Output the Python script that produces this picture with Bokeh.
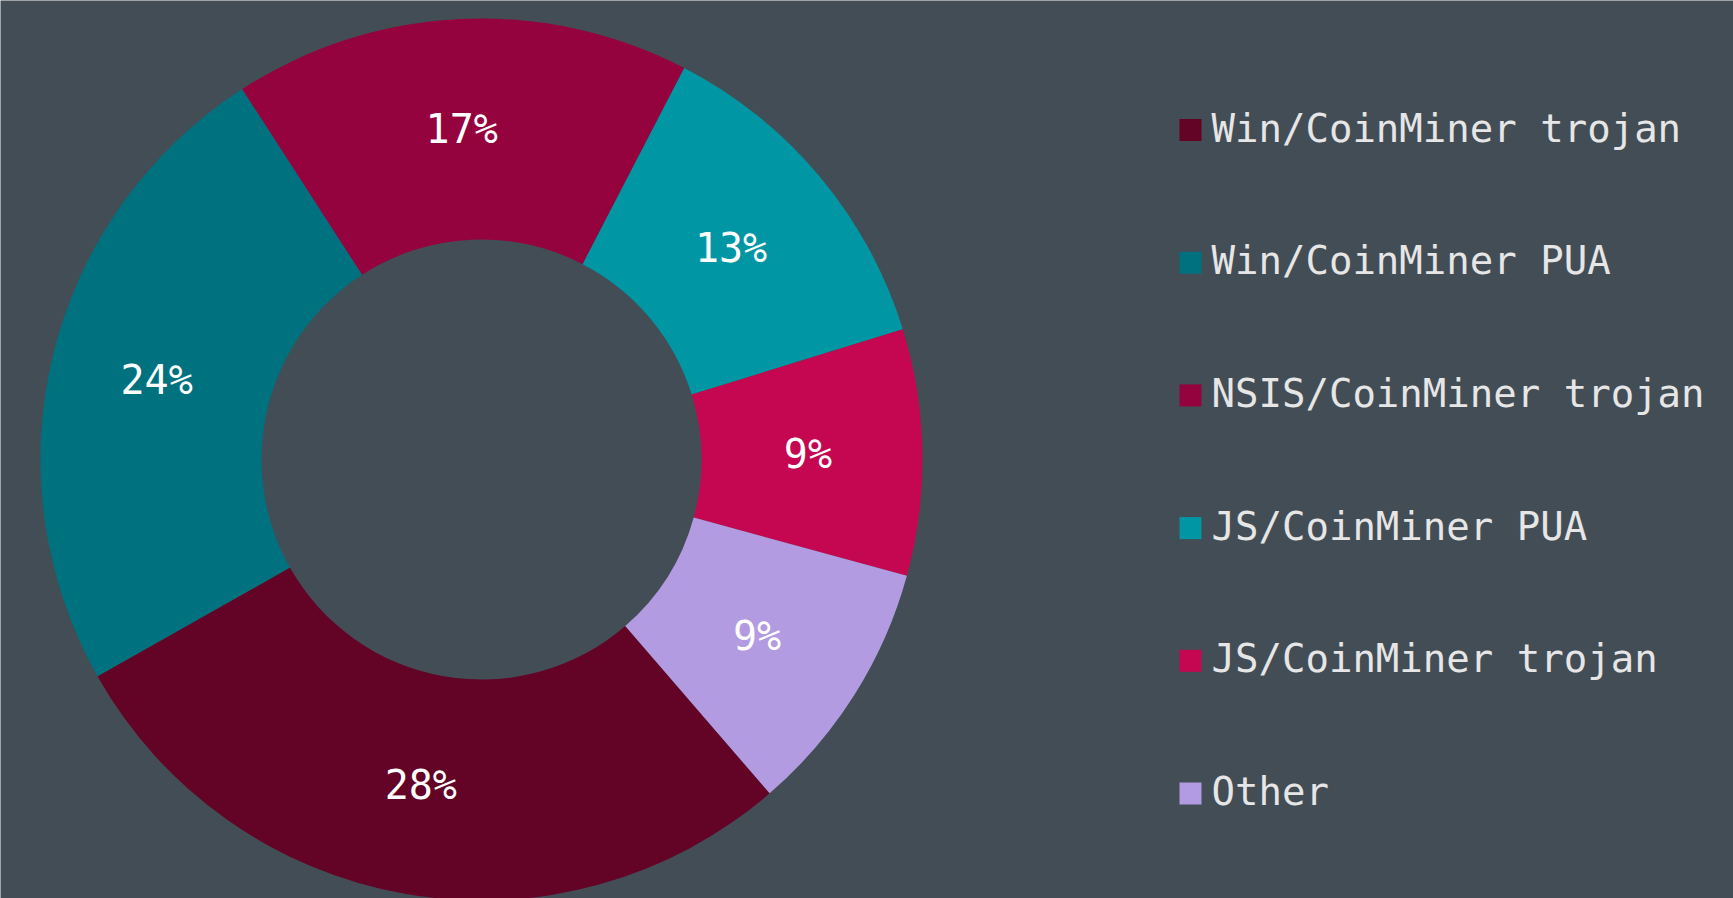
import numpy as np
from bokeh.plotting import figure
from bokeh.models import Range1d, ColumnDataSource
from bokeh.core.properties import value
from bokeh.embed import file_html
from bokeh.resources import INLINE

# ---- data ----
categories = ["Win/CoinMiner trojan", "Win/CoinMiner PUA", "NSIS/CoinMiner trojan",
              "JS/CoinMiner PUA", "JS/CoinMiner trojan", "Other"]
shares = [28.1, 24.0, 16.7, 12.6, 9.0, 9.4]
colors = ["#630326", "#00727F", "#95033F", "#0096A3", "#C40750", "#B29BE0"]

# ---- layout / style ----
W, H = 1733, 898
BG = "#434D56"
FONT = "DejaVu Sans Mono"
CX, CY = 481, 459          # page pixels
R_IN, R_OUT = 220, 441
START_DEG = -49.2          # first slice starts here, runs clockwise

p = figure(width=W, height=H, output_backend="svg", toolbar_location=None,
           x_range=Range1d(0, W), y_range=Range1d(-H, 0),
           min_border=0, background_fill_color=BG, border_fill_color=BG)
p.axis.visible = False
p.grid.visible = False
p.outline_line_color = None

vals = np.array(shares, dtype=float)
frac = vals / vals.sum()
cum = np.concatenate([[0.0], np.cumsum(frac)])
a0 = np.deg2rad(START_DEG)
starts = a0 - 2 * np.pi * cum[:-1]
ends = a0 - 2 * np.pi * cum[1:]
mids = (starts + ends) / 2
r_mid = (R_IN + R_OUT) / 2
labels = [f"{round(v)}%" for v in vals]

src = ColumnDataSource(dict(
    cat=categories, start=starts, end=ends, color=colors,
    lx=CX + r_mid * np.cos(mids) - 4, ly=-CY + r_mid * np.sin(mids),
    label=labels,
))

p.annular_wedge(x=CX, y=-CY, inner_radius=R_IN, outer_radius=R_OUT,
                start_angle="start", end_angle="end", direction="clock",
                fill_color="color", line_color=None, source=src)

p.text(x="lx", y="ly", text="label", source=src, text_color="white",
       text_font=value(FONT), text_font_size="40px",
       text_align="center", text_baseline="alphabetic")

# ---- legend (drawn as glyphs) ----
idx = np.arange(len(categories))
row_c = 129.5 + idx * 132.7
leg = ColumnDataSource(dict(
    cat=categories, color=colors,
    sx=np.full(len(categories), 1190.0), sy=-row_c,
    tx=np.full(len(categories), 1211.0), ty=-(row_c - 2),
))
p.rect(x="sx", y="sy", width=22, height=22, width_units="screen",
       height_units="screen", fill_color="color", line_color=None, source=leg)
p.text(x="tx", y="ty", text="cat", source=leg, text_color="#E6E6E6",
       text_font=value(FONT), text_font_size="39px",
       text_align="left", text_baseline="alphabetic")

open("out.html", "w").write(file_html(p, INLINE))
